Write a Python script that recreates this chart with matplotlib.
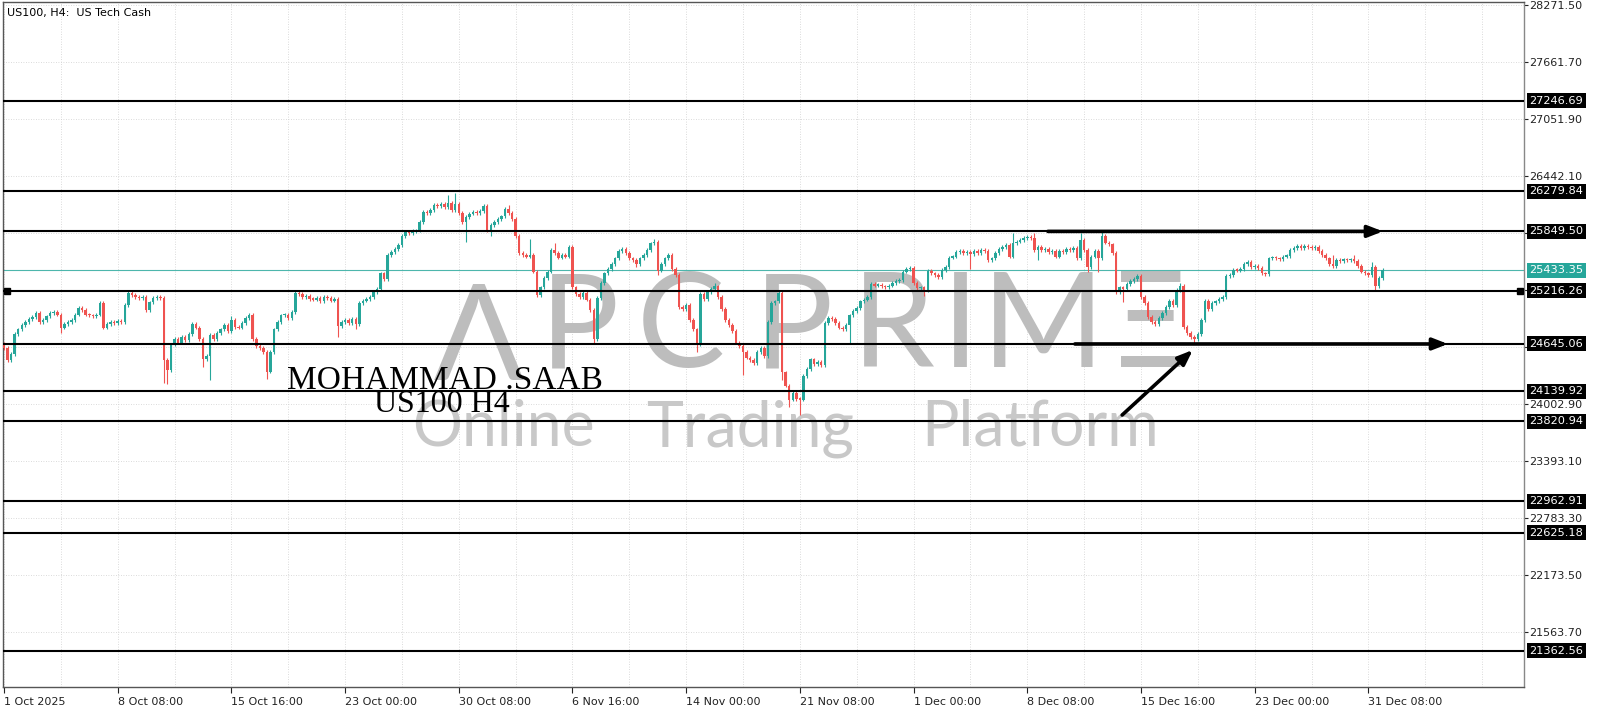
import matplotlib
matplotlib.use('Agg')
import matplotlib.pyplot as plt
from matplotlib import transforms

# H4 closes, 1 Oct 2025 -> 31 Dec 2025
closes = [
    24600, 24470, 24540, 24750, 24800, 24850, 24880, 24910, 24930, 24975,
    24880, 24900, 24940, 24975, 24990, 24960, 24820, 24860, 24880, 24900,
    24960, 25030, 25010, 24960, 24950, 24945, 24960, 25080, 24820, 24860,
    24880, 24870, 24890, 24880, 25060, 25190, 25170, 25150, 25140, 25150,
    25010, 25090, 25140, 25150, 25140, 24470, 24370, 24640, 24700, 24660,
    24720, 24690, 24750, 24860, 24820, 24700, 24480, 24520, 24740, 24700,
    24760, 24800, 24850, 24780, 24900, 24830, 24820, 24870, 24920, 24960,
    24700, 24620, 24600, 24560, 24350, 24560, 24800, 24880, 24950, 24960,
    24920, 24990, 25190, 25180, 25150, 25160, 25130, 25120, 25140, 25100,
    25150, 25140, 25110, 25130, 24840, 24880, 24900, 24870, 24910, 24860,
    25080, 25110, 25130, 25150, 25200, 25230, 25400, 25340, 25600, 25630,
    25660, 25700, 25800, 25840, 25830, 25850, 25860, 25950, 26060, 26050,
    26080, 26130, 26120, 26140, 26110, 26150, 26080, 26140, 26050, 25950,
    26000, 26040, 26060, 26050, 26070, 26120, 25860, 25920, 25950, 25980,
    26010, 26090, 26050, 25980, 25800, 25620, 25600, 25580, 25600, 25420,
    25170, 25250, 25350, 25420, 25650, 25620, 25570, 25600, 25580, 25680,
    25250, 25180, 25150, 25190, 25120, 25010, 24700, 25140, 25300, 25400,
    25450, 25500, 25560, 25640, 25660, 25620, 25560, 25540, 25500, 25560,
    25600, 25650, 25720, 25740, 25430, 25500, 25560, 25600, 25450, 25380,
    25040, 25020, 25060, 24900, 24800, 24640, 25180, 25130, 25200, 25230,
    25260, 25150, 25020, 24900, 24850, 24780, 24660, 24620, 24560, 24500,
    24470, 24440, 24560, 24600, 24520, 24880, 25080, 25100, 25190, 24340,
    24200, 24050, 24120, 24060, 24050, 24300, 24380, 24480, 24430, 24450,
    24420, 24870, 24920, 24910, 24870, 24820, 24800, 24850, 24950, 25000,
    25030, 25100, 25120, 25150, 25290, 25270, 25280, 25260, 25250, 25270,
    25300, 25320, 25330, 25420, 25450, 25460, 25300, 25240, 25250, 25220,
    25430, 25400, 25380, 25360, 25440, 25470, 25570, 25580, 25630, 25640,
    25620, 25630, 25610, 25640, 25620, 25650, 25640, 25540, 25560, 25620,
    25660, 25680, 25700, 25580, 25720, 25740, 25760, 25780, 25790, 25780,
    25650, 25680, 25650, 25660, 25630, 25640, 25580, 25640, 25630, 25660,
    25650, 25670, 25560, 25760, 25650, 25470, 25580, 25640, 25560, 25800,
    25730, 25710, 25620, 25200, 25250, 25230, 25290, 25320, 25340, 25370,
    25150, 25080, 24930, 24880, 24860, 24920, 24980, 25040, 25110, 25060,
    25220, 25270, 24830, 24760, 24720, 24700, 24750, 24900, 25110, 25020,
    25080, 25100, 25130, 25150, 25370, 25380, 25440, 25430, 25450, 25500,
    25520, 25470, 25480, 25460, 25400, 25390, 25560, 25570, 25560, 25550,
    25580, 25590, 25650, 25670, 25690, 25670, 25690, 25680, 25670, 25680,
    25640, 25600, 25560, 25500, 25480, 25540, 25530, 25550, 25540, 25550,
    25530, 25480, 25420, 25400, 25380, 25470, 25260, 25350, 25433,
]
first_open = 24650

# bars with long wicks: index -> price
wick_highs = {64: 24940, 125: 26240, 127: 26260, 142: 26130, 148: 25770, 155: 25720,
              183: 25770, 200: 25300, 255: 25480, 277: 25660, 284: 25830, 290: 25830,
              303: 25830, 309: 25840, 331: 25300, 374: 25600, 380: 25600, 385: 25520}
wick_lows = {16: 24760, 45: 24230, 46: 24220, 56: 24400, 58: 24260, 74: 24270, 94: 24720,
             99: 24800, 130: 25740, 137: 25800, 166: 24640, 178: 25470, 184: 25380,
             195: 24560, 208: 24310, 219: 24260, 221: 23970, 224: 23880, 238: 24640,
             259: 25160, 272: 25450, 291: 25540, 305: 25410, 308: 25420, 315: 25090,
             335: 24660, 386: 25220}

levels = [27246.69, 26279.84, 25849.50, 25216.26, 24645.06,
          24139.92, 23820.94, 22962.91, 22625.18, 21362.56]
last_price = 25433.35

price_ticks = [28271.50, 27661.70, 27051.90, 26442.10, 25832.30, 25222.50,
               24612.70, 24002.90, 23393.10, 22783.30, 22173.50, 21563.70]
price_labels = ['28271.50', '27661.70', '27051.90', '26442.10', '', '', '',
                '24002.90', '23393.10', '22783.30', '22173.50', '21563.70']

date_bars = [0, 32, 64, 96, 128, 160, 192, 224, 256, 288, 320, 352, 384]
date_labels = ['1 Oct 2025', '8 Oct 08:00', '15 Oct 16:00', '23 Oct 00:00',
               '30 Oct 08:00', '6 Nov 16:00', '14 Nov 00:00', '21 Nov 08:00',
               '1 Dec 00:00', '8 Dec 08:00', '15 Dec 16:00', '23 Dec 00:00',
               '31 Dec 08:00']

# drawn arrows (bar, price) -> (bar, price)
arrows = [(293.8, 25849.50, 388.1, 25849.50),
          (301.4, 24645.06, 406.4, 24645.06),
          (314.7, 23885.0, 334.6, 24581.0)]

UP = '#26a69a'
DOWN = '#ef5350'

fig = plt.figure(figsize=(16, 7.11), dpi=100)
ax = fig.add_axes([3 / 1600, 24 / 711, 1521 / 1600, 685 / 711])
ax.set_xlim(-0.2815, 427.8)
ax.set_ylim(20975.3, 28303.6)

# watermark (the "A" has no crossbar: an upside-down V)
ax.text(478 / 1600, 1 - 320 / 711, 'V', transform=fig.transFigure, ha='center',
        va='center', rotation=180, fontsize=96, color='#bdbdbd',
        family=['Lato', 'DejaVu Sans'], zorder=1)
wm_letters = ['P', 'C', 'P', 'R', 'I', 'M', 'Ξ']
wm_x = [580, 681, 794, 893, 960, 1043, 1150]
for ch, cx in zip(wm_letters, wm_x):
    fam = ['DejaVu Sans'] if ch == 'Ξ' else ['Lato', 'DejaVu Sans']
    ax.text(cx / 1600, 1 - 367 / 711, ch, transform=fig.transFigure, ha='center',
            va='baseline', fontsize=95, color='#bdbdbd', family=fam, zorder=1)
wm_words = ['Online', 'Trading', 'Platform']
wm_word_x = [503, 750, 1040]
for word, cx in zip(wm_words, wm_word_x):
    ax.text(cx / 1600, 1 - 446 / 711, word, transform=fig.transFigure,
            ha='center', va='baseline', fontsize=45, color='#c8c8c8',
            family=['Lato', 'DejaVu Sans'], zorder=1)

# candles
opens = [first_open] + closes[:-1]
for i, (o, c) in enumerate(zip(opens, closes)):
    col = UP if c >= o else DOWN
    hi = wick_highs.get(i, max(o, c) + 20)
    lo = wick_lows.get(i, min(o, c) - 20)
    ax.vlines(i, lo, hi, color=col, lw=0.8, zorder=3)
    h = max(abs(c - o), 12)
    ax.bar(i, h, bottom=min(o, c), width=0.7, color=col, lw=0, zorder=3)

# levels
for lv in levels:
    ax.axhline(lv, color='black', lw=1.5, zorder=4)
ax.axhline(last_price, color='#4db6ac', lw=0.8, zorder=2)

blend = transforms.blended_transform_factory(ax.transAxes, ax.transData)
ax.plot([0.0025, 0.9975], [25216.26, 25216.26], 's', color='black', ms=4.5,
        transform=blend, clip_on=False, zorder=5)

for x0, y0, x1, y1 in arrows:
    ax.annotate('', xy=(x1, y1), xytext=(x0, y0),
                arrowprops=dict(arrowstyle='-|>,head_length=0.9,head_width=0.35',
                                color='black', lw=2.6, shrinkA=0, shrinkB=0),
                zorder=6)

# price labels on the right
for lv in levels:
    ax.text(1.0036, lv, f'{lv:.2f}', transform=blend, va='center', ha='left',
            fontsize=8.2, color='white', clip_on=False, zorder=10,
            bbox=dict(boxstyle='square,pad=0.22', fc='black', ec='none'))
ax.text(1.0036, last_price, f'{last_price:.2f}', transform=blend, va='center', ha='left',
        fontsize=8.2, color='white', clip_on=False, zorder=10,
        bbox=dict(boxstyle='square,pad=0.22', fc='#26a69a', ec='none'))

# texts
ax.text(287 / 1600, 1 - 389 / 711, 'MOHAMMAD .SAAB', transform=fig.transFigure,
        fontsize=24, family='Liberation Serif', color='black', va='baseline', zorder=7)
ax.text(374 / 1600, 1 - 412 / 711, 'US100 H4', transform=fig.transFigure,
        fontsize=23, family='Liberation Serif', color='black', va='baseline', zorder=7)
ax.text(7 / 1600, 1 - 16 / 711, 'US100, H4:  US Tech Cash', transform=fig.transFigure,
        fontsize=8, color='black', va='baseline', zorder=7)

# axes
ax.yaxis.tick_right()
ax.set_yticks(price_ticks)
ax.set_yticklabels(price_labels)
ax.set_xticks(date_bars)
ax.set_xticklabels(date_labels)
ax.set_xticks(range(0, 428, 16), minor=True)
plt.setp(ax.get_xticklabels(), ha='left')
ax.tick_params(axis='y', which='major', direction='out', length=3, width=0.8, pad=1,
               labelsize=8, colors='#222222')
ax.tick_params(axis='x', which='major', direction='out', length=4, width=0.8, pad=3,
               labelsize=8, colors='#222222')
ax.tick_params(axis='x', which='minor', length=0)
ax.grid(True, axis='x', which='both', ls=(0, (1, 2)), color='#cfcfcf', lw=0.6)
ax.grid(True, axis='y', which='major', ls=(0, (1, 2)), color='#cfcfcf', lw=0.6)
ax.set_axisbelow(True)
for side in ['left', 'top', 'bottom']:
    ax.spines[side].set_color('#555555')
ax.spines['right'].set_color('#888888')
for s in ax.spines.values():
    s.set_linewidth(1)

fig.savefig('out.png', dpi=100)
